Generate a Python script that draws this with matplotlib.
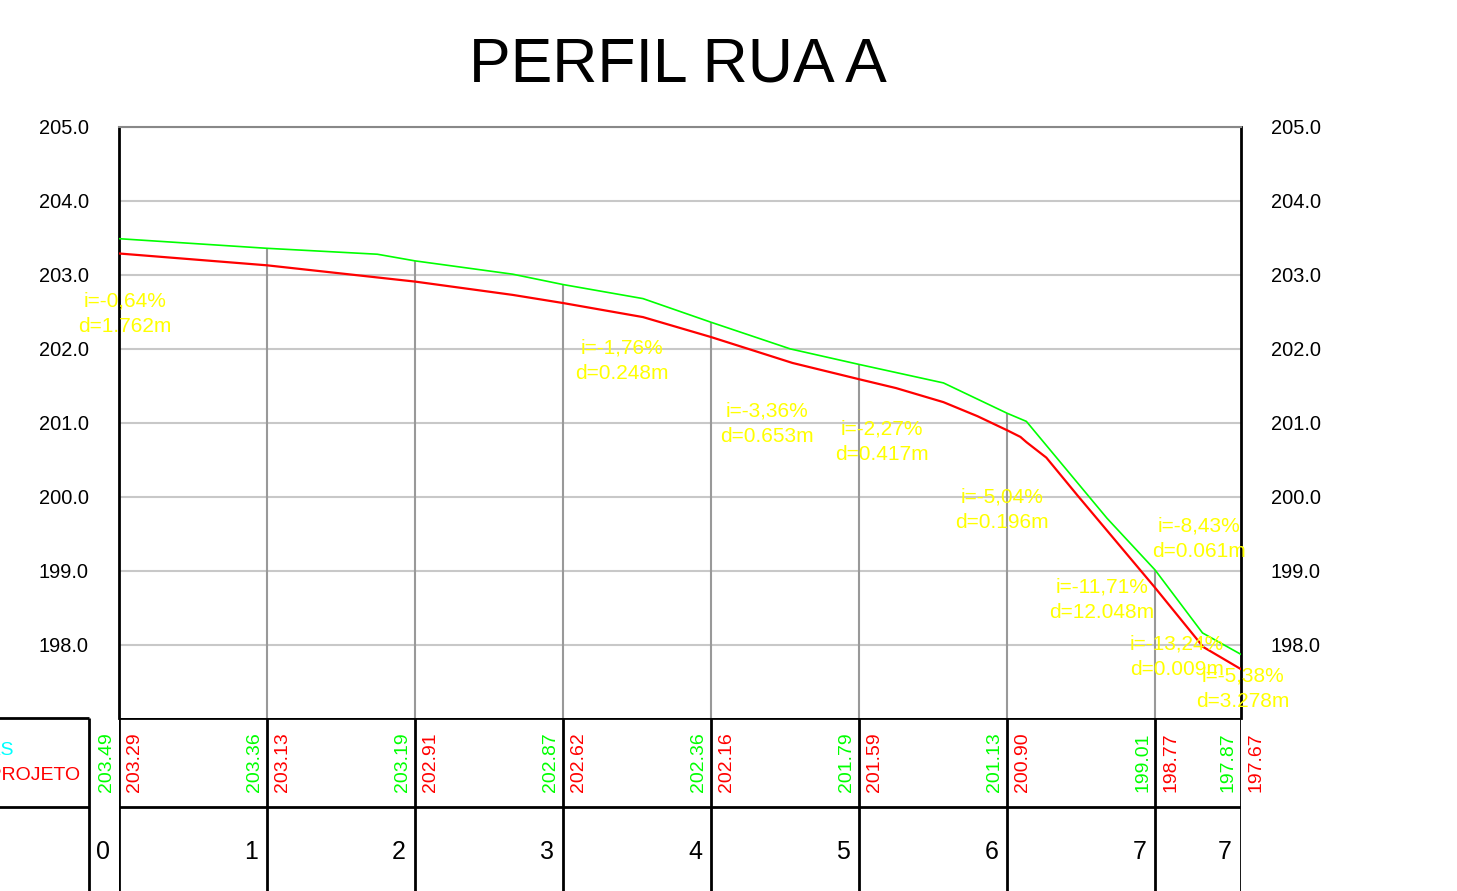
import matplotlib
matplotlib.use("Agg")
import matplotlib.pyplot as plt

plt.rcParams['font.family'] = ['Liberation Sans', 'DejaVu Sans']

# estacas (m) e cotas da tabela
stations = [0, 20, 40, 60, 80, 100, 120, 140, 151.6]
station_labels = ["0", "1", "2", "3", "4", "5", "6", "7", "7"]
terrain_at_st = [203.49, 203.36, 203.19, 202.87, 202.36, 201.79, 201.13, 199.01, 197.87]
project_at_st = [203.29, 203.13, 202.91, 202.62, 202.16, 201.59, 200.90, 198.77, 197.67]

# perfil do terreno (verde)
terrain_x = [0, 20, 34.9, 40, 53.2, 60, 70.8, 80, 90.7, 100, 111.4, 120, 122.6,
             133.5, 140, 146.4, 151.6]
terrain_y = [203.49, 203.36, 203.28, 203.19, 203.01, 202.87, 202.68, 202.36, 202.00,
             201.79, 201.54, 201.13, 201.02, 199.71, 199.01, 198.16, 197.87]

# greide do projeto (vermelho)
project_x = [0, 20, 40, 53.2, 60, 70.8, 80, 91, 100, 105, 111.4, 116, 120, 121.8,
             122.6, 125.3, 129.5, 140, 146.5, 151.6]
project_y = [203.29, 203.13, 202.91, 202.73, 202.62, 202.43, 202.16, 201.81, 201.59,
             201.47, 201.28, 201.09, 200.90, 200.81, 200.74, 200.53, 200.02, 198.77,
             197.97, 197.67]

# rampas
slope_i = ["i=-0,64%", "i=-1,76%", "i=-3,36%", "i=-2,27%", "i=-5,04%", "i=-8,43%",
           "i=-11,71%", "i=-13,24%", "i=-5,38%"]
slope_d = ["d=1.762m", "d=0.248m", "d=0.653m", "d=0.417m", "d=0.196m", "d=0.061m",
           "d=12.048m", "d=0.009m", "d=3.278m"]
slope_pos_x = [0.81, 67.97, 87.57, 103.11, 119.32, 145.95, 132.84, 142.97, 151.89]
slope_pos_y = [202.568, 201.932, 201.081, 200.838, 199.919, 199.527, 198.703, 197.932, 197.50]

yticks = [198, 199, 200, 201, 202, 203, 204, 205]
ymin, ymax = 197.01, 205.0
xmax = 151.6

fig = plt.figure(figsize=(14.57, 8.91), dpi=100)
ax = fig.add_axes([119 / 1457, 173 / 891, 1122 / 1457, 591 / 891])
tab = fig.add_axes([119 / 1457, 0, 1122 / 1457, 173 / 891])

ax.set_xlim(0, xmax)
ax.set_ylim(ymin, ymax)
ax.set_xticks([])
ax.set_yticks(yticks)
ax.set_yticklabels([f"{v:.1f}" for v in yticks])
ax.tick_params(axis='y', length=0, pad=21.6, labelsize=14.4, labelright=True)
ax.set_axisbelow(True)
ax.yaxis.grid(True, color='#c8c8c8', lw=1.5)

ax.spines['top'].set_color('#888888')
ax.spines['top'].set_linewidth(1.5)
ax.spines['left'].set_color('black')
ax.spines['left'].set_linewidth(2)
ax.spines['right'].set_color('black')
ax.spines['right'].set_linewidth(2)
ax.spines['bottom'].set_visible(False)

ax.vlines(stations[1:-1], ymin, terrain_at_st[1:-1], colors='#999999', lw=1.5, zorder=1)
ax.plot(terrain_x, terrain_y, color='#00ff00', lw=1.2, zorder=3)
ax.plot(project_x, project_y, color='#ff0000', lw=1.6, zorder=3)

for t1, t2, x, y in zip(slope_i, slope_d, slope_pos_x, slope_pos_y):
    ax.annotate(t1, xy=(x, y), ha='center', va='baseline', color='#ffff00',
                fontsize=15, annotation_clip=False, zorder=4)
    ax.annotate(t2, xy=(x, y), xytext=(0, -25), textcoords='offset pixels',
                ha='center', va='baseline', color='#ffff00', fontsize=15,
                annotation_clip=False, zorder=4)

fig.text(678 / 1457, 1 - 82 / 891, "PERFIL RUA A", fontsize=45, ha='center', va='baseline')

# tabela inferior
tab.set_xlim(0, xmax)
tab.set_ylim(0, 1)
tab.axis('off')
row_line = 0.486
tab.vlines(stations, 0, 1, colors='black', lw=2)
tab.vlines([-4.05], 0, 1, colors='black', lw=2, clip_on=False)
tab.hlines([1, row_line], 0, xmax, colors='black', lw=2)
tab.hlines([1, row_line], -20, -4.05, colors='black', lw=2, clip_on=False)

for st, g, r, lab in zip(stations, terrain_at_st, project_at_st, station_labels):
    tab.annotate(f"{g:.2f}", xy=(st, 0.572), xytext=(-4, 0), textcoords='offset pixels',
                 rotation=90, ha='right', va='bottom', color='#00ff00', fontsize=14,
                 annotation_clip=False)
    tab.annotate(f"{r:.2f}", xy=(st, 0.572), xytext=(7, 0), textcoords='offset pixels',
                 rotation=90, ha='left', va='bottom', color='#ff0000', fontsize=14,
                 annotation_clip=False)
    tab.annotate(lab, xy=(st, 0.225), xytext=(-9, 0), textcoords='offset pixels',
                 ha='right', va='center', fontsize=18, annotation_clip=False)

tab.text(-14.32, 0.815, "COTAS", color='#00ffff', fontsize=14, ha='right', va='center',
         clip_on=False)
tab.text(-5.27, 0.665, "COTAS DO PROJETO", color='#ff0000', fontsize=14, ha='right',
         va='center', clip_on=False)

fig.savefig("out.png", dpi=100)
